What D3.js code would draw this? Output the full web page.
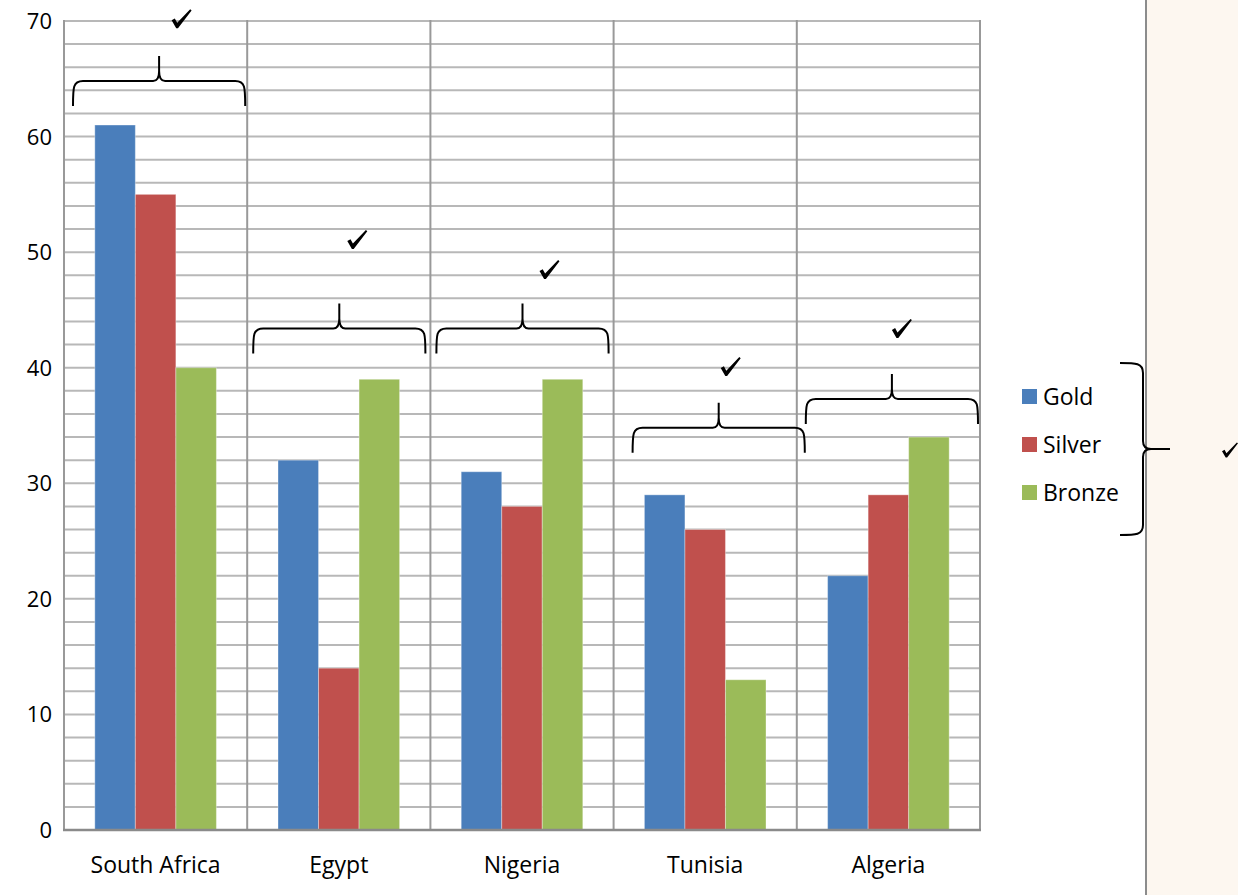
<!DOCTYPE html>
<html>
  <head>
    <meta charset="utf-8">
    <title>Medals</title>
    <style>
      body { margin: 0; background: #fff; }
      svg { display: block; font-family: "Open Sans", sans-serif; }
    </style>
  </head>
  <body>
    <svg id="chart" width="1238" height="895"></svg>
    <script src="https://cdnjs.cloudflare.com/ajax/libs/d3/7.8.5/d3.min.js"></script>
    <script>
      // data
      const countries = ['South Africa', 'Egypt', 'Nigeria', 'Tunisia', 'Algeria'];
      const series = ['Gold', 'Silver', 'Bronze'];
      const gold = [61, 32, 31, 29, 22];
      const silver = [55, 14, 28, 26, 29];
      const bronze = [40, 39, 39, 13, 34];
      const yTicks = [0, 10, 20, 30, 40, 50, 60, 70];
      // hand-drawn marks: brace level and tick level, in axis units
      const braceLevel = [64.8, 43.4, 43.4, 34.8, 37.3];
      const checkLevel = [70.2, 51.1, 48.5, 40.1, 43.4];

      const colors = { Gold: '#4a7ebb', Silver: '#c0504d', Bronze: '#9bbb59' };
      const values = { Gold: gold, Silver: silver, Bronze: bronze };

      const svg = d3.select('#chart');
      const mLeft = 64, mRight = 980, mTop = 21, mBottom = 830;

      // beige panel on the right
      svg.append('rect')
        .attr('x', 1147).attr('y', 0)
        .attr('width', 91).attr('height', 895)
        .attr('fill', '#fdf7f0');
      svg.append('line')
        .attr('x1', 1146).attr('x2', 1146)
        .attr('y1', 0).attr('y2', 895)
        .attr('stroke', '#8c8c8c').attr('stroke-width', 2);

      const x0 = d3.scaleBand().domain(countries).range([mLeft, mRight]).padding(0);
      const x1 = d3.scaleBand().domain(series).range([0, x0.bandwidth()])
        .paddingInner(0).paddingOuter(0.76);
      const y = d3.scaleLinear().domain([0, 70]).range([mBottom, mTop]);

      // minor gridlines every 2
      svg.append('g').selectAll('line')
        .data(d3.range(2, 71, 2))
        .join('line')
        .attr('x1', mLeft).attr('x2', mRight)
        .attr('y1', d => y(d)).attr('y2', d => y(d))
        .attr('stroke', '#b8b8b8').attr('stroke-width', 2);

      // category separators
      svg.append('g').selectAll('line')
        .data(countries.concat(['end']))
        .join('line')
        .attr('x1', (d, i) => mLeft + i * x0.step())
        .attr('x2', (d, i) => mLeft + i * x0.step())
        .attr('y1', mTop - 1).attr('y2', mBottom)
        .attr('stroke', '#999').attr('stroke-width', 2);

      // bars
      const groups = svg.append('g').selectAll('g')
        .data(countries)
        .join('g')
        .attr('transform', d => `translate(${x0(d)},0)`);
      groups.selectAll('rect')
        .data((c, i) => series.map(s => ({ s, v: values[s][i] })))
        .join('rect')
        .attr('x', d => x1(d.s))
        .attr('y', d => y(d.v))
        .attr('width', x1.bandwidth())
        .attr('height', d => y(0) - y(d.v))
        .attr('fill', d => colors[d.s])
        .attr('stroke', 'rgba(255,255,255,0.35)')
        .attr('stroke-width', 1);

      // x axis line
      svg.append('line')
        .attr('x1', mLeft - 1).attr('x2', mRight + 1)
        .attr('y1', mBottom).attr('y2', mBottom)
        .attr('stroke', '#8a8a8a').attr('stroke-width', 2.5);

      // y labels
      svg.append('g').selectAll('text')
        .data(yTicks)
        .join('text')
        .attr('x', 52).attr('y', d => y(d) + 8)
        .attr('text-anchor', 'end')
        .attr('font-size', 22)
        .attr('fill', '#000')
        .text(d => d);

      // category labels
      svg.append('g').selectAll('text')
        .data(countries)
        .join('text')
        .attr('x', d => x0(d) + x0.bandwidth() / 2)
        .attr('y', 873)
        .attr('text-anchor', 'middle')
        .attr('font-size', 23)
        .attr('fill', '#000')
        .text(d => d);

      // legend
      const legend = svg.append('g').attr('transform', 'translate(1022,389)');
      const li = legend.selectAll('g').data(series).join('g')
        .attr('transform', (d, i) => `translate(0,${i * 48})`);
      li.append('rect').attr('width', 15).attr('height', 15)
        .attr('fill', d => colors[d]);
      li.append('text').attr('x', 21).attr('y', 16)
        .attr('font-size', 23).attr('fill', '#000')
        .text(d => d);

      // hand marks
      const checkPath = 'M0,11 L3.2,9.2 L5.6,13.6 L18.6,0 L20,1.2 L6.4,19 L4.6,19 Z';
      function check(g, cx, cy, s) {
        g.append('path')
          .attr('d', checkPath)
          .attr('fill', '#000')
          .attr('transform', `translate(${cx - 10 * s},${cy - 9.5 * s}) scale(${s})`);
      }
      function hBrace(xa, xb, yb) {
        const xm = (xa + xb) / 2;
        return `M${xa},${yb + 25} C${xa},${yb + 6} ${xa},${yb} ${xa + 10},${yb}` +
          ` L${xm - 6},${yb} Q${xm},${yb} ${xm},${yb - 10} L${xm},${yb - 25}` +
          ` M${xm},${yb - 10} Q${xm},${yb} ${xm + 6},${yb} L${xb - 10},${yb}` +
          ` C${xb},${yb} ${xb},${yb + 6} ${xb},${yb + 25}`;
      }
      const braceShift = [9, 6, 6, 19, 9];
      const checkShift = [22.5, 18, 27, 12, 10];
      const anno = svg.append('g');
      countries.forEach((c, i) => {
        const xa = x0(c) + braceShift[i];
        const xb = xa + x0.bandwidth() - 11;
        anno.append('path')
          .attr('d', hBrace(xa, xb, y(braceLevel[i])))
          .attr('fill', 'none').attr('stroke', '#000').attr('stroke-width', 2);
        check(anno, (xa + xb) / 2 + checkShift[i], y(checkLevel[i]), 1);
      });

      // legend brace (pointing right)
      const bx = 1143, by0 = 363, by1 = 535, bm = 449;
      anno.append('path')
        .attr('d', `M1120,${by0} C1136,${by0} ${bx},${by0} ${bx},${by0 + 10}` +
          ` L${bx},${bm - 8} Q${bx},${bm} ${bx + 8},${bm} L1170,${bm}` +
          ` M${bx + 8},${bm} Q${bx},${bm} ${bx},${bm + 8}` +
          ` L${bx},${by1 - 10} C${bx},${by1} 1136,${by1} 1120,${by1}`)
        .attr('fill', 'none').attr('stroke', '#000').attr('stroke-width', 2);
      check(anno, 1230, 450, 0.8);
    </script>
  </body>
</html>
